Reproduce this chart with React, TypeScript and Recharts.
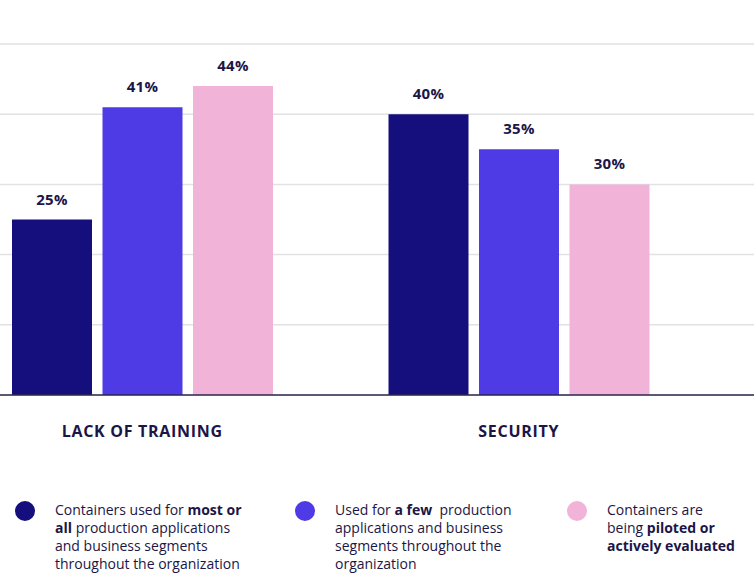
import { Bar, BarChart, CartesianGrid, LabelList, XAxis, YAxis } from "recharts"

const categories = ["LACK OF TRAINING", "SECURITY"]
const mostOrAll = [25, 40]
const aFew = [41, 35]
const piloted = [44, 30]
const yTicks = [0, 10, 20, 30, 40, 50]

const data = categories.map((name, i) => ({
  name,
  mostOrAll: mostOrAll[i],
  aFew: aFew[i],
  piloted: piloted[i],
}))

const NAVY = "#150f7d"
const PURPLE = "#4f3be5"
const PINK = "#f1b4d8"
const TEXT = "#1b1646"
const FONT = "'Open Sans', sans-serif"

const legend = [
  {
    color: NAVY,
    left: 15,
    lines: [
      <>Containers used for <b>most or</b></>,
      <><b>all</b> production applications</>,
      <>and business segments</>,
      <>throughout the organization</>,
    ],
  },
  {
    color: PURPLE,
    left: 295,
    lines: [
      <>Used for <b>a few</b>&nbsp; production</>,
      <>applications and business</>,
      <>segments throughout the</>,
      <>organization</>,
    ],
  },
  {
    color: PINK,
    left: 567,
    lines: [
      <>Containers are</>,
      <>being <b>piloted or</b></>,
      <><b>actively evaluated</b></>,
    ],
  },
]

const pct = (v: number) => `${v}%`

export default function App() {
  const labelStyle = { fill: TEXT, fontSize: 15, fontWeight: 700, fontFamily: FONT, letterSpacing: 0.3 }
  return (
    <div
      style={{
        position: "absolute",
        left: 0,
        top: 0,
        width: 754,
        height: 578,
        overflow: "hidden",
        background: "#fff",
        fontFamily: FONT,
      }}
    >
      <div style={{ position: "absolute", left: -46, top: 0 }}>
        <BarChart
          width={800}
          height={460}
          data={data}
          margin={{ top: 44, right: 0, left: 0, bottom: 0 }}
          barSize={80}
          barGap={10.5}
        >
          <CartesianGrid vertical={false} stroke="#e2e2e2" strokeWidth={1.5} />
          <YAxis hide domain={[0, 50]} ticks={yTicks} />
          <XAxis
            dataKey="name"
            height={65}
            padding={{ left: 0, right: 47 }}
            axisLine={{ stroke: "#2c2850", strokeWidth: 1.5 }}
            tickLine={false}
            tickMargin={25}
            tick={{ fill: TEXT, fontSize: 16, fontWeight: 700, fontFamily: FONT, letterSpacing: 0.7 }}
          />
          <Bar dataKey="mostOrAll" fill={NAVY} isAnimationActive={false}>
            <LabelList dataKey="mostOrAll" position="top" offset={15} formatter={pct} style={labelStyle} />
          </Bar>
          <Bar dataKey="aFew" fill={PURPLE} isAnimationActive={false}>
            <LabelList dataKey="aFew" position="top" offset={15} formatter={pct} style={labelStyle} />
          </Bar>
          <Bar dataKey="piloted" fill={PINK} isAnimationActive={false}>
            <LabelList dataKey="piloted" position="top" offset={15} formatter={pct} style={labelStyle} />
          </Bar>
        </BarChart>
      </div>
      {legend.map((item, i) => (
        <div key={i} style={{ position: "absolute", left: item.left, top: 501 }}>
          <div
            style={{
              position: "absolute",
              left: 0,
              top: 0,
              width: 20,
              height: 20,
              borderRadius: 10,
              background: item.color,
            }}
          />
          <div
            style={{
              position: "absolute",
              left: 40,
              top: 0,
              whiteSpace: "nowrap",
              fontSize: 14,
              lineHeight: "18px",
              color: TEXT,
            }}
          >
            {item.lines.map((l, j) => (
              <div key={j}>{l}</div>
            ))}
          </div>
        </div>
      ))}
    </div>
  )
}
